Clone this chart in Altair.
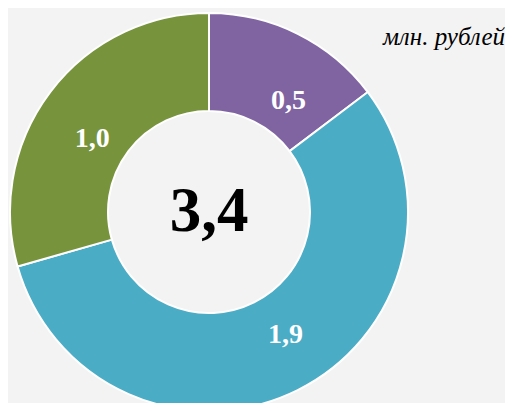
import altair as alt
import pandas as pd

# ---- data ----
categories = ["Сегмент 1", "Сегмент 2", "Сегмент 3"]
values = [0.5, 1.9, 1.0]
colors = ["#8064A2", "#4BACC6", "#77933C"]
unit_text = "млн. рублей"

labels = [f"{v:.1f}".replace(".", ",") for v in values]
total = round(sum(values), 1)
total_label = f"{total:.1f}".replace(".", ",")

df = pd.DataFrame({
    "cat": categories,
    "value": values,
    "idx": list(range(len(values))),
    "label": labels,
})

CX, CY = 201, 204
SERIF = "Liberation Serif"

theta_scale = alt.Scale(domain=[0, total])

base = alt.Chart(df).transform_window(
    end="sum(value)", sort=[alt.SortField("idx")]
).transform_calculate(
    start="datum.end - datum.value",
    mid="datum.end - datum.value / 2",
)

arcs = base.mark_arc(
    outerRadius=199, innerRadius=101, stroke="white", strokeWidth=2
).encode(
    theta=alt.Theta("start:Q", scale=theta_scale),
    theta2="end:Q",
    color=alt.Color("cat:N", scale=alt.Scale(domain=categories, range=colors), legend=None),
    x=alt.value(CX),
    y=alt.value(CY),
)

offsets = [(17, 14), (14, -2), (-5, 11)]
label_layers = []
for i, (ox, oy) in enumerate(offsets):
    label_layers.append(
        base.transform_filter(alt.datum.idx == i).mark_text(
            radius=140, dx=ox, dy=oy, font=SERIF, fontSize=28,
            fontWeight="bold", color="white", baseline="middle", align="center",
        ).encode(
            theta=alt.Theta("mid:Q", scale=theta_scale),
            text="label:N",
            x=alt.value(CX),
            y=alt.value(CY),
        )
    )

center_df = pd.DataFrame({"t": [total_label]})
center = alt.Chart(center_df).mark_text(
    font=SERIF, fontSize=63, fontWeight="bold", color="black",
    baseline="middle", align="center",
).encode(text="t:N", x=alt.value(CX), y=alt.value(CY))

unit = alt.Chart(pd.DataFrame({"t": [unit_text]})).mark_text(
    font=SERIF, fontSize=25, fontStyle="italic", color="black",
    baseline="alphabetic", align="right",
).encode(text="t:N", x=alt.value(497), y=alt.value(37))

chart = alt.layer(arcs, *label_layers, center, unit).properties(
    width=497, height=395, padding=0, background="#f3f3f3",
    autosize=alt.AutoSizeParams(type="none"),
).configure_view(stroke=None)

chart.save("out.html", embed_options={"renderer": "svg", "actions": False})
